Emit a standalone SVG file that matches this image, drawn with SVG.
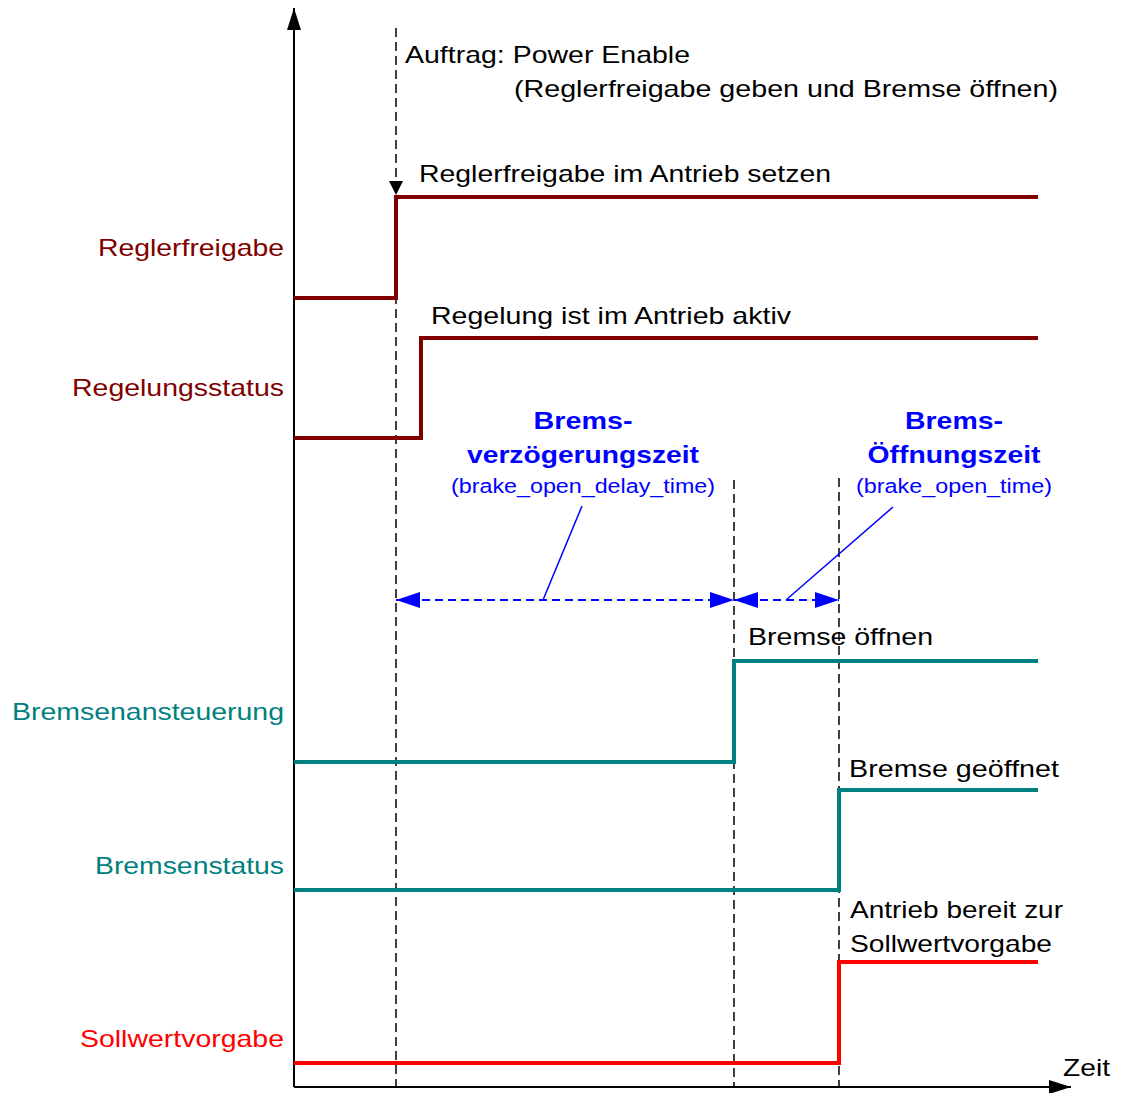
<svg xmlns="http://www.w3.org/2000/svg" width="1128" height="1093" viewBox="0 0 1128 1093">
<style>
text{font-family:"Liberation Sans",Arial,sans-serif;font-size:24px;fill:#000}
.lbl{text-anchor:end}
.dr{fill:#800000}.tl{fill:#008080}.rd{fill:#ff0000}
.bb{fill:#0000ff;font-weight:bold;text-anchor:middle}
.bs{fill:#0000ff;font-size:20px;text-anchor:middle}
.ax{stroke:#000;stroke-width:2;fill:none}
.dash{stroke:#000;stroke-width:1.5;stroke-dasharray:9,5;fill:none}
.sig{fill:none;stroke-width:4;stroke-linejoin:miter}
.bd{stroke:#0000ff;stroke-width:2;stroke-dasharray:8,5;fill:none}
.bl{stroke:#0000ff;stroke-width:1.5;fill:none}
</style>
<defs>
<marker id="ah" markerWidth="14" markerHeight="14" refX="14" refY="7" orient="auto" markerUnits="userSpaceOnUse"><path d="M0,0 L14,7 L0,14 z" fill="#000"/></marker>
<marker id="ab" markerWidth="24" markerHeight="16" refX="24" refY="8" orient="auto" markerUnits="userSpaceOnUse"><path d="M0,0 L24,8 L0,16 z" fill="#0000ff"/></marker>
<marker id="abs" markerWidth="24" markerHeight="16" refX="0" refY="8" orient="auto" markerUnits="userSpaceOnUse"><path d="M24,0 L0,8 L24,16 z" fill="#0000ff"/></marker>
<marker id="axm" markerWidth="22" markerHeight="14" refX="22" refY="7" orient="auto" markerUnits="userSpaceOnUse"><path d="M0,0 L22,7 L0,14 z" fill="#000"/></marker>
</defs>
<g id="connectors">
<line class="ax" x1="294" y1="1087" x2="294" y2="8" marker-end="url(#axm)"/>
<line class="ax" x1="294" y1="1087" x2="1071" y2="1087" marker-end="url(#axm)"/>
<line class="dash" x1="396" y1="28" x2="396" y2="195" marker-end="url(#ah)"/>
<line class="dash" x1="396" y1="197" x2="396" y2="1087"/>
<line class="dash" x1="734" y1="480" x2="734" y2="1087"/>
<line class="dash" x1="839" y1="478" x2="839" y2="1087"/>
<line class="bd" x1="396" y1="600" x2="734" y2="600" marker-start="url(#abs)" marker-end="url(#ab)"/>
<line class="bd" x1="734" y1="600" x2="839" y2="600" marker-start="url(#abs)" marker-end="url(#ab)"/>
<line class="bl" x1="582" y1="506" x2="543" y2="600"/>
<line class="bl" x1="893" y1="507" x2="786" y2="600"/>
</g>
<g id="reglerfreigabe">
<polyline class="sig" stroke="#800000" points="294,298 396,298 396,197 1038,197"/>
<text class="lbl dr" x="284" y="256" textLength="186" lengthAdjust="spacingAndGlyphs">Reglerfreigabe</text>
<text x="419" y="182" textLength="412" lengthAdjust="spacingAndGlyphs">Reglerfreigabe im Antrieb setzen</text>
</g>
<g id="regelungsstatus">
<polyline class="sig" stroke="#800000" points="294,438 421,438 421,338 1038,338"/>
<text class="lbl dr" x="284" y="396" textLength="212" lengthAdjust="spacingAndGlyphs">Regelungsstatus</text>
<text x="431" y="324" textLength="360" lengthAdjust="spacingAndGlyphs">Regelung ist im Antrieb aktiv</text>
</g>
<g id="bremsenansteuerung">
<polyline class="sig" stroke="#008080" points="294,762 734,762 734,661 1038,661"/>
<text class="lbl tl" x="284" y="720" textLength="272" lengthAdjust="spacingAndGlyphs">Bremsenansteuerung</text>
<text x="748" y="645" textLength="185" lengthAdjust="spacingAndGlyphs">Bremse öffnen</text>
</g>
<g id="bremsenstatus">
<polyline class="sig" stroke="#008080" points="294,890 839,890 839,790 1038,790"/>
<text class="lbl tl" x="284" y="874" textLength="189" lengthAdjust="spacingAndGlyphs">Bremsenstatus</text>
<text x="849" y="777" textLength="210" lengthAdjust="spacingAndGlyphs">Bremse geöffnet</text>
</g>
<g id="sollwertvorgabe">
<polyline class="sig" stroke="#ff0000" points="294,1063 839,1063 839,962 1038,962"/>
<text class="lbl rd" x="284" y="1047" textLength="204" lengthAdjust="spacingAndGlyphs">Sollwertvorgabe</text>
<text x="850" y="918" textLength="213" lengthAdjust="spacingAndGlyphs">Antrieb bereit zur</text>
<text x="850" y="952" textLength="202" lengthAdjust="spacingAndGlyphs">Sollwertvorgabe</text>
</g>
<g id="auftrag">
<text x="405" y="63" textLength="285" lengthAdjust="spacingAndGlyphs">Auftrag: Power Enable</text>
<text x="514" y="97" textLength="544" lengthAdjust="spacingAndGlyphs">(Reglerfreigabe geben und Bremse öffnen)</text>
</g>
<g id="bremsverzoegerungszeit">
<text class="bb" x="583" y="429" textLength="99" lengthAdjust="spacingAndGlyphs">Brems-</text>
<text class="bb" x="583" y="463" textLength="232" lengthAdjust="spacingAndGlyphs">verzögerungszeit</text>
<text class="bs" x="583" y="493" textLength="264" lengthAdjust="spacingAndGlyphs">(brake_open_delay_time)</text>
</g>
<g id="bremsoeffnungszeit">
<text class="bb" x="954" y="429" textLength="98" lengthAdjust="spacingAndGlyphs">Brems-</text>
<text class="bb" x="954" y="463" textLength="173" lengthAdjust="spacingAndGlyphs">Öffnungszeit</text>
<text class="bs" x="954" y="493" textLength="196" lengthAdjust="spacingAndGlyphs">(brake_open_time)</text>
</g>
<g id="zeit">
<text x="1063" y="1076" textLength="47" lengthAdjust="spacingAndGlyphs">Zeit</text>
</g>
</svg>
